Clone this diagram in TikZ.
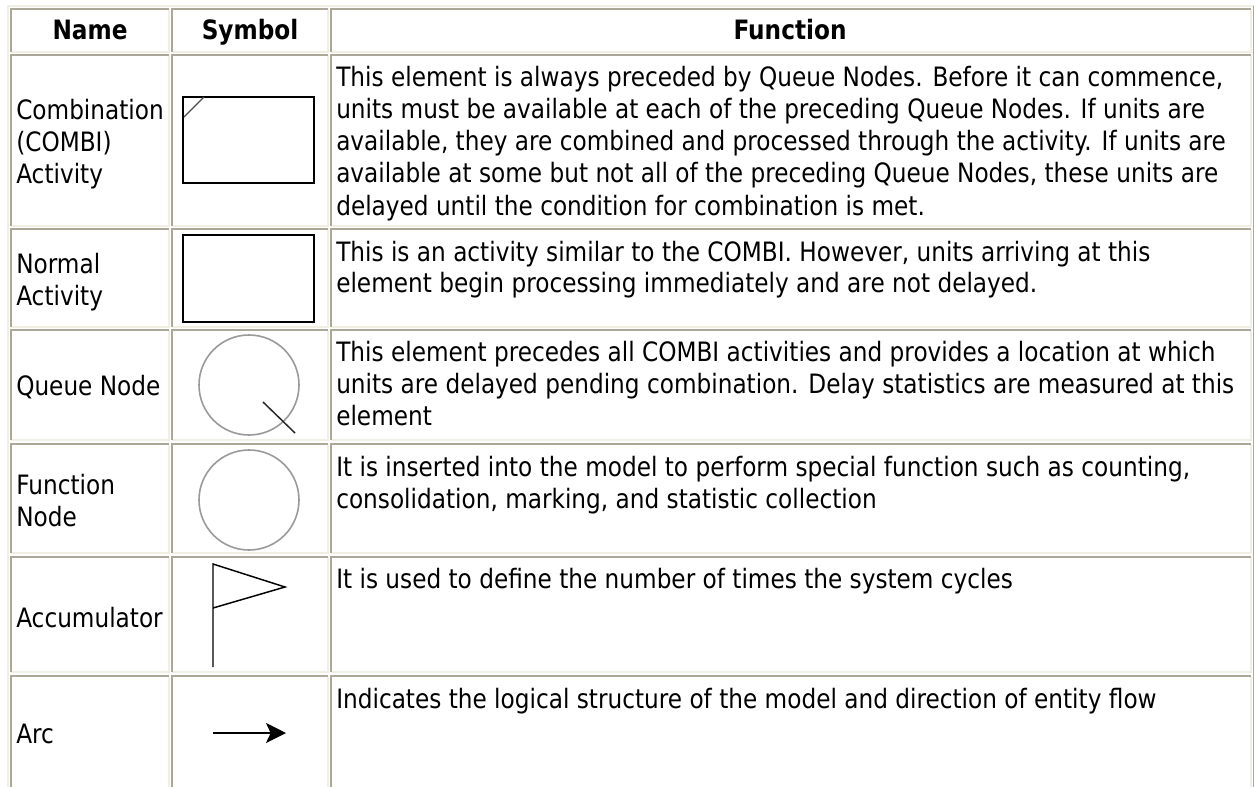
\documentclass[tikz,border=0pt]{standalone}
\usepackage{fontspec}
\setmainfont{DejaVu Sans}[FakeStretch=0.87]
\usetikzlibrary{arrows.meta}
\definecolor{cellgray}{HTML}{ACA899}
\definecolor{cellcream}{HTML}{F1EFE2}
\definecolor{circgray}{HTML}{9A9A9A}
\begin{document}
\begin{tikzpicture}[x=0.75pt,y=-0.75pt,
  txt/.style={anchor=base west, inner sep=0pt, font=\fontsize{20pt}{24pt}\selectfont},
  hdr/.style={anchor=base, inner sep=0pt, font=\fontsize{20pt}{24pt}\selectfont\bfseries},
  gline/.style={draw=cellgray, line width=1.5pt},
  cline/.style={draw=cellcream, line width=1.5pt},
  symline/.style={draw=black, line width=1.2pt},
  circ/.style={draw=circgray, line width=1.2pt}]
\useasboundingbox[fill=white] (0,0) rectangle (1254,786);
% outer table border
\draw[cline] (7.5,800) -- (7.5,5.5) -- (1253.5,5.5);
\draw[gline] (1253.5,5.5) -- (1253.5,800);
% cell borders
\foreach \xa/\xb in {11/168.5, 172/328, 331/1250.5} {
  \foreach \ya/\yb in {9/51.5, 55/225.5, 229/326.5, 330/440, 443.5/553, 556.5/672, 676/800} {
    \draw[cline] (\xa,\yb) -- (\xb,\yb) -- (\xb,\ya);
    \draw[gline] (\xa,\yb) -- (\xa,\ya) -- (\xb,\ya);
  }
}
% headers
\node[hdr] (hname) at (90,39.5) {Name};
\node[hdr] (hsym) at (250,39.5) {Symbol};
\node[hdr] (hfun) at (790,39.5) {Function};
% name column
\node[txt] (n1a) at (16,119) {Combination};
\node[txt] (n1b) at (16,151) {(COMBI)};
\node[txt] (n1c) at (16,183) {Activity};
\node[txt] (n2a) at (16,273) {Normal};
\node[txt] (n2b) at (16,305) {Activity};
\node[txt] (n3a) at (16,395) {Queue Node};
\node[txt] (n4a) at (16,494) {Function};
\node[txt] (n4b) at (16,526) {Node};
\node[txt] (n5a) at (16,627) {Accumulator};
\node[txt] (n6a) at (16,743) {Arc};
% function column
\node[txt] (f1a) at (336,86) {This element is always preceded by Queue Nodes. Before it can commence,};
\node[txt] (f1b) at (336,118) {units must be available at each of the preceding Queue Nodes. If units are};
\node[txt] (f1c) at (336,150) {available, they are combined and processed through the activity. If units are};
\node[txt] (f1d) at (336,182.5) {available at some but not all of the preceding Queue Nodes, these units are};
\node[txt] (f1e) at (336,215) {delayed until the condition for combination is met.};
\node[txt] (f2a) at (336,261) {This is an activity similar to the COMBI. However, units arriving at this};
\node[txt] (f2b) at (336,292) {element begin processing immediately and are not delayed.};
\node[txt] (f3a) at (336,361.5) {This element precedes all COMBI activities and provides a location at which};
\node[txt] (f3b) at (336,393) {units are delayed pending combination. Delay statistics are measured at this};
\node[txt] (f3c) at (336,425) {element};
\node[txt] (f4a) at (336,476.5) {It is inserted into the model to perform special function such as counting,};
\node[txt] (f4b) at (336,508) {consolidation, marking, and statistic collection};
\node[txt] (f5a) at (336,588.5) {It is used to define the number of times the system cycles};
\node[txt] (f6a) at (336,708) {Indicates the logical structure of the model and direction of entity flow};
% symbols
\draw[symline] (183,97) rectangle (314,183);
\draw[draw=black!70, line width=1pt] (184,117) -- (204,97);
\draw[symline] (183,235) rectangle (314,322);
\draw[circ] (249,385) circle[radius=50];
\draw[draw=black!85, line width=1.1pt] (263,402) -- (295,433);
\draw[circ] (249,500) circle[radius=50];
\draw[symline, line width=1.1pt, line join=miter] (213,667) -- (213,564) -- (285,587) -- (213,608);
\coordinate (arcA) at (213,733);
\coordinate (arcB) at (286,733);
\draw[black, line width=1.1pt, -{Stealth[length=15pt, width=15pt, inset=3.5pt]}] (arcA) -- (arcB);
\end{tikzpicture}
\end{document}
